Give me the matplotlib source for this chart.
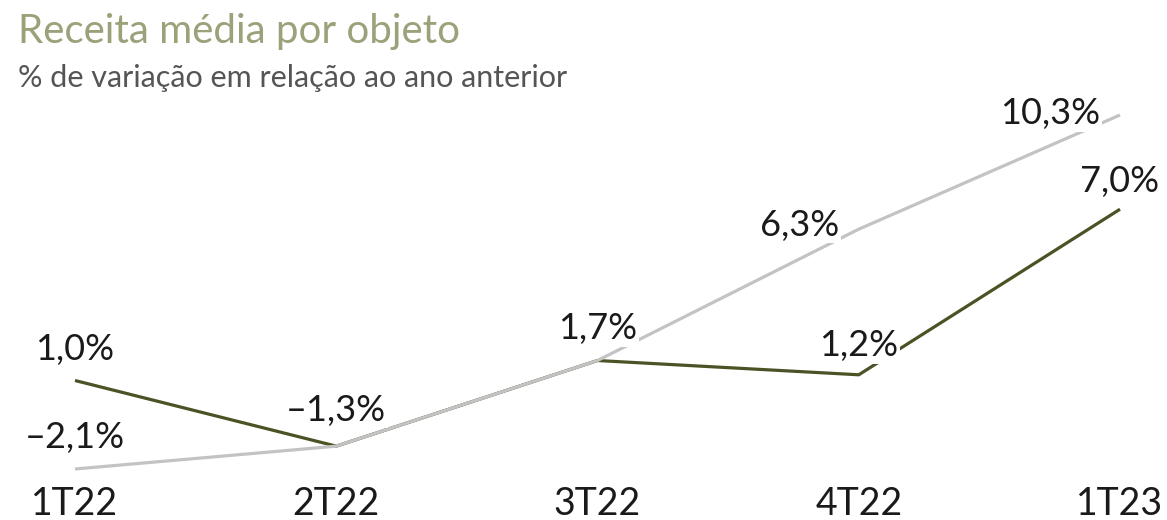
import matplotlib
matplotlib.use("Agg")
import matplotlib.pyplot as plt

plt.rcParams['font.family'] = ['Lato', 'DejaVu Sans']

categories = ["1T22", "2T22", "3T22", "4T22", "1T23"]
serie_escura = [1.0, -1.3, 1.7, 1.2, 7.0]
serie_cinza = [-2.1, -1.3, 1.7, 6.3, 10.3]
rotulos_escura = ["1,0%", "", "", "1,2%", "7,0%"]
rotulos_cinza = ["\u20132,1%", "\u20131,3%", "1,7%", "6,3%", "10,3%"]

fig = plt.figure(figsize=(11.67, 5.2), dpi=100)
ax = fig.add_axes([75/1167, 1-469/520, 1045/1167, (469-115)/520])
x = list(range(len(categories)))

dark = "#4b5326"
gray = "#c3c3c3"
ax.plot(x, serie_escura, color=dark, lw=2.3, zorder=2, solid_capstyle='butt', clip_on=False)
ax.plot(x, serie_cinza, color=gray, lw=2.3, zorder=3, solid_capstyle='butt', clip_on=False)

ax.set_xlim(0, 4)
ax.set_ylim(-2.1, 10.3)

bbox = dict(boxstyle="square,pad=0.05", fc="white", ec="none")
fs = 26

def lab(i, val, text, dx, dy, ha):
    if not text:
        return
    ax.annotate(text, (i, val), xytext=(dx, dy), textcoords="offset points",
                ha=ha, va="center", fontsize=fs, color="#1a1a1a",
                bbox=bbox, zorder=5, annotation_clip=False)

# dark series labels
lab(0, serie_escura[0], rotulos_escura[0], 0, 22, "center")
lab(3, serie_escura[3], rotulos_escura[3], 0, 21, "center")
lab(4, serie_escura[4], rotulos_escura[4], 0, 20, "center")
# gray series labels
lab(0, serie_cinza[0], rotulos_cinza[0], 0, 23, "center")
lab(1, serie_cinza[1], rotulos_cinza[1], 0, 26, "center")
lab(2, serie_cinza[2], rotulos_cinza[2], 0, 23, "center")
lab(3, serie_cinza[3], rotulos_cinza[3], -14, 3, "right")
lab(4, serie_cinza[4], rotulos_cinza[4], -14, 1, "right")

ax.set_xticks(x)
ax.set_xticklabels(categories, fontsize=27, color="#1a1a1a")
ax.tick_params(axis='x', length=0, pad=12)
ax.set_yticks([])
for s in ax.spines.values():
    s.set_visible(False)

fig.text(18/1167, 1-32/520, "Receita média por objeto", fontsize=29, color="#9aa27a",
         ha="left", va="center")
fig.text(18/1167, 1-78/520, "% de variação em relação ao ano anterior", fontsize=22,
         color="#555555", ha="left", va="center")

fig.savefig("out.png", dpi=100)
